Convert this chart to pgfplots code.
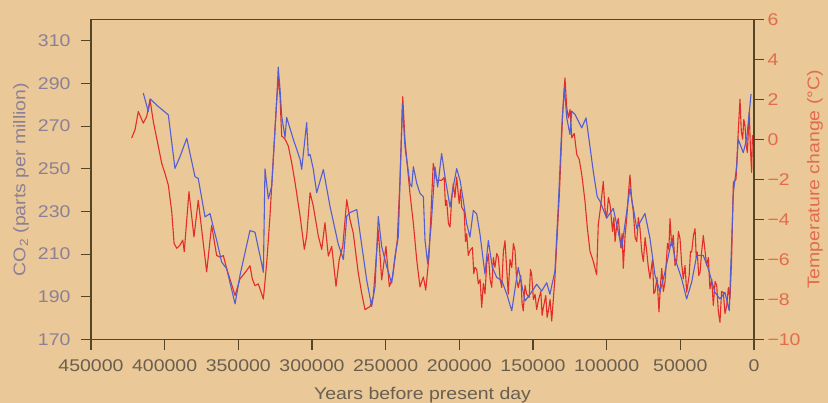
\documentclass[border=0pt]{standalone}
\usepackage{fontspec}
\setmainfont{Liberation Sans}[FakeStretch=1.15]
\usepackage{pgfplots}
\pgfplotsset{compat=1.18}
\definecolor{bgcol}{RGB}{234,200,151}
\definecolor{axcol}{RGB}{85,70,40}
\definecolor{co2col}{RGB}{84,94,208}
\definecolor{tcol}{RGB}{226,45,40}
\definecolor{leftlab}{RGB}{140,128,150}
\definecolor{rightlab}{RGB}{226,108,76}
\definecolor{xlab}{RGB}{105,95,80}
\begin{document}
\begin{tikzpicture}
\path[use as bounding box, fill=bgcol] (-91bp,-63.5bp) rectangle (737bp,339.5bp);
\clip (-91bp,-63.5bp) rectangle (737bp,339.5bp);
\pgfplotsset{
  base/.style={
    at={(0,0)}, anchor=south west, scale only axis,
    width=663bp, height=320bp,
    x dir=reverse, xmin=0, xmax=450000,
    axis line style={axcol, line width=1.1bp},
    major tick style={axcol, line width=1.1bp},
    tick align=outside, major tick length=10bp,
    font=\fontsize{17}{20}\selectfont,
    scaled x ticks=false, scaled y ticks=false,
  }
}
% temperature axis (right), drawn first
\begin{axis}[base,
  ymin=-10, ymax=6,
  xtick={0,50000,100000,150000,200000,250000,300000,350000,400000,450000},
  xticklabels={0,50000,100000,150000,200000,250000,300000,350000,400000,450000},
  xtick pos=left,
  xticklabel style={text=xlab, yshift=-7bp},
  ytick={-10,-8,-6,-4,-2,0,2,4,6},
  yticklabels={−10,−8,−6,−4,−2,0,2,4,6},
  ytick pos=right,
  yticklabel style={text=rightlab},
  xlabel={Years before present day},
  ylabel={Temperature change (°C)},
  every axis y label/.style={at={(axis description cs:1.0799,0.5)}, rotate=90, anchor=north, inner sep=0pt, text=rightlab},
  every axis x label/.style={at={(axis description cs:0.5,-0.15)}, anchor=north, inner sep=0pt, text=xlab},
]
\addplot[tcol, line width=1.1bp, line join=round] coordinates {
(422400,0.07) (420100,0.49) (417900,1.40) (414500,0.82) (412200,1.15) (409900,1.98)
(407700,0.90) (405400,0.06) (402000,-1.19) (399800,-1.69) (397500,-2.28) (395200,-3.61)
(393600,-5.20) (391800,-5.44) (389600,-5.28) (387700,-5.03) (386700,-5.61) (383500,-2.61)
(380100,-4.87) (377200,-3.04) (371500,-6.62) (368100,-4.29) (364700,-5.80) (362400,-5.88)
(360200,-5.80) (357900,-6.46) (352200,-7.80) (348900,-6.97) (344300,-6.55) (342100,-6.31)
(340500,-6.97) (338700,-7.31) (336400,-7.22) (333000,-7.98) (330700,-6.14) (328500,-3.81)
(326300,-0.98) (323900,2.02) (322900,3.02) (321700,2.18) (320600,0.18) (318300,0.02)
(316100,-0.32) (313800,-1.15) (311500,-2.15) (308100,-3.82) (305200,-5.49) (303600,-4.83)
(301300,-2.66) (299100,-3.33) (295700,-4.83) (293400,-5.50) (291200,-4.16) (288900,-5.83)
(286600,-5.34) (283700,-7.34) (281500,-6.00) (279100,-5.34) (276400,-3.01) (274200,-4.01)
(272000,-4.67) (268600,-6.67) (266300,-7.68) (264000,-8.51) (260600,-8.35) (258400,-7.85)
(255000,-4.52) (252700,-7.02) (249800,-5.35) (247500,-7.36) (245200,-6.86) (242100,-5.02)
(240300,-2.02) (238400,2.14) (236900,-0.03) (233500,-2.69) (231200,-4.19) (228900,-6.03)
(226700,-7.37) (224400,-6.87) (222800,-7.53) (220600,-5.87) (217700,-1.20) (215400,-2.04)
(212000,-2.04) (210300,-1.9) (209400,-3.3) (208600,-3.04) (207400,-4.2) (206300,-4.38)
(205200,-3.0) (204100,-2.21) (203000,-2.9) (201800,-1.88) (200100,-3.2) (199200,-2.5)
(198400,-3.38) (196700,-3.6) (195800,-5.1) (195000,-4.71) (193900,-5.8) (192800,-5.55)
(191100,-5.4) (190200,-6.7) (189400,-6.39) (188200,-6.5) (187100,-7.22) (185900,-7.0)
(184800,-8.39) (183700,-7.2) (182600,-7.72) (181400,-6.2) (180300,-5.72) (179100,-7.0)
(178000,-7.39) (176900,-5.9) (175800,-6.39) (174600,-5.7) (173500,-5.89) (172300,-7.0)
(171200,-7.40) (170100,-5.6) (169000,-5.06) (167900,-6.4) (166800,-7.73) (165600,-6.0)
(164400,-6.40) (163300,-5.2) (162200,-5.56) (161100,-7.0) (160000,-7.40) (158300,-6.8)
(157400,-8.2) (156600,-8.57) (155400,-7.3) (154300,-7.73) (152600,-7.9) (151700,-6.5)
(150900,-6.74) (149700,-8.0) (148600,-7.74) (147500,-8.5) (146400,-8.07) (144700,-7.6)
(143800,-8.8) (143000,-8.41) (141300,-7.8) (140400,-8.9) (139600,-8.58) (138400,-8.0)
(137300,-9.08) (135100,-6.91)
(132100,-2.75) (129800,1.42) (128300,3.08) (127100,1.6) (126000,1.08) (124800,1.5) (123700,0.08)
(122000,0.3) (120300,-0.75) (118600,-1.0) (116900,-1.75) (114700,-3.09) (113100,-4.43) (111300,-5.59) (109100,-6.09)
(106800,-6.76) (105700,-4.26) (104000,-3.3) (102300,-2.10) (101100,-3.5) (100000,-3.93)
(98800,-2.9) (97700,-3.26) (96000,-4.6) (95100,-3.9) (94300,-5.10) (93200,-4.3)
(92100,-3.94) (90400,-5.4) (89500,-4.7) (88700,-6.44) (87500,-4.8) (86400,-3.94)
(85300,-2.8) (84200,-1.77) (83000,-3.0) (81900,-3.61) (80700,-4.9) (79600,-5.11)
(78500,-3.9) (77400,-4.44) (76200,-5.6) (75100,-6.11) (73900,-4.9) (72800,-5.61)
(71700,-6.4) (70600,-6.95) (68900,-6.0) (68000,-7.7) (67200,-7.62) (65800,-6.9)
(64500,-8.62) (63500,-7.3) (62600,-6.45) (61500,-7.6) (60400,-7.12) (58700,-5.2)
(57800,-5.5) (57000,-3.96) (55900,-5.3) (54800,-4.79) (53600,-6.3) (52500,-6.12)
(51300,-4.6) (50200,-4.96) (49100,-6.2) (48000,-6.96) (46800,-6.3) (45700,-7.63)
(44000,-6.8) (43100,-5.6) (42300,-5.63) (41100,-4.8) (40000,-4.46) (39200,-5.9)
(38500,-5.63) (37500,-6.8) (36600,-6.63) (35500,-5.6) (34400,-4.80) (33200,-5.6)
(32100,-6.30) (31000,-5.9) (29900,-7.47) (28700,-7.0) (27600,-8.30) (26400,-7.1)
(25300,-7.30) (24200,-8.6) (23100,-9.14) (22000,-7.6) (20800,-7.64) (19700,-8.7)
(18500,-8.31) (17400,-7.4) (16300,-7.98) (15200,-6.0) (14000,-2.14) (12200,-1.98)
(10700,0.36) (9500,2.02) (8600,0.4) (7700,0.02) (6900,1.0) (6100,0.69) (5300,-0.3)
(4500,-0.65) (3900,0.3) (3200,1.35) (2400,-0.5) (1600,-1.65) (1100,0.2) (700,-0.15)
};
\end{axis}
% CO2 axis (left)
\begin{axis}[base,
  ymin=170, ymax=320,
  xtick=\empty,
  ytick={170,190,210,230,250,270,290,310},
  yticklabels={170,190,210,230,250,270,290,310},
  ytick pos=left,
  yticklabel style={text=leftlab, xshift=-7bp},
  ylabel={CO\textsubscript{2} (parts per million)},
  every axis y label/.style={at={(axis description cs:-0.1176,0.5)}, rotate=90, anchor=north, inner sep=0pt, text=leftlab},
]
\addplot[co2col, line width=1.1bp, line join=round] coordinates {
(414500,285.5) (411100,276.9) (409900,282.8) (404300,279.2) (397500,275.3) (393000,250.2)
(389600,255.7) (385000,264.3) (379400,246.3) (377200,245.5) (372600,227.5) (369200,229.0)
(364700,216.5) (361300,206.3) (357900,203.2) (352200,186.7) (348900,200.0) (342100,221.1)
(338700,220.3) (334100,205.4) (333000,201.5) (331900,250.0) (329600,235.9) (327300,242.1)
(323900,282.7) (322900,297.6) (321700,287.4) (320600,274.9) (318300,264.7) (317200,274.1)
(312700,263.9) (308100,254.5) (307000,249.8) (303600,271.7) (302500,256.1) (301300,256.8)
(299100,249.8) (296800,238.8) (292300,249.7) (287800,232.5) (282100,214.5) (278700,207.5)
(276400,227.8) (274200,229.5) (269600,230.9) (267400,219.9) (262900,198.0) (259500,185.5)
(257200,194.9) (255000,227.7) (252700,213.6) (249300,204.2) (245900,196.4) (243700,208.9)
(241400,218.2) (238600,280.4) (236900,260.4) (233500,243.0) (232300,241.6) (231200,251.0)
(228900,243.2) (226700,238.5) (224400,236.9) (223300,216.6) (221500,205.6) (219200,222.8)
(216500,250.9) (214700,241.5) (212000,257.2) (209700,246.2) (206300,232.1) (204100,241.5)
(201800,250.1) (199500,244.6) (197300,235.2) (195000,224.3) (192800,218.0) (190500,230.5)
(188200,228.9) (186000,219.5) (182600,200.7) (180300,216.4) (177600,203.8) (174600,199.1)
(171200,197.6) (167800,191.3) (164400,183.5) (160000,203.8) (155400,188.1) (152000,191.2)
(147500,195.9) (144100,192.7) (140700,196.6) (138500,191.2) (135100,202.1) (132800,233.3)
(130500,269.3) (128700,288.0) (127100,273.9) (124900,266.1) (123700,277.1) (121500,275.5)
(119200,272.4) (116900,269.2) (114000,273.9) (111800,262.9) (109100,248.9) (106400,236.9)
(104500,234.8) (100000,226.9) (95500,231.5) (89800,212.8) (84200,240.9) (79600,222.1)
(74000,229.1) (70600,217.4) (67200,200.2) (63800,192.4) (60400,201.7) (55900,216.6)
(53600,207.9) (49100,198.5) (45700,189.0) (42300,196.9) (38900,209.4) (34400,209.4)
(31000,203.1) (26500,192.1) (23100,189.0) (19700,192.1) (16800,183.5) (14000,238.9)
(11700,251.5) (10700,263.9) (7300,257.6) (5000,263.9) (2000,285.0)
};
\end{axis}
\end{tikzpicture}
\end{document}
